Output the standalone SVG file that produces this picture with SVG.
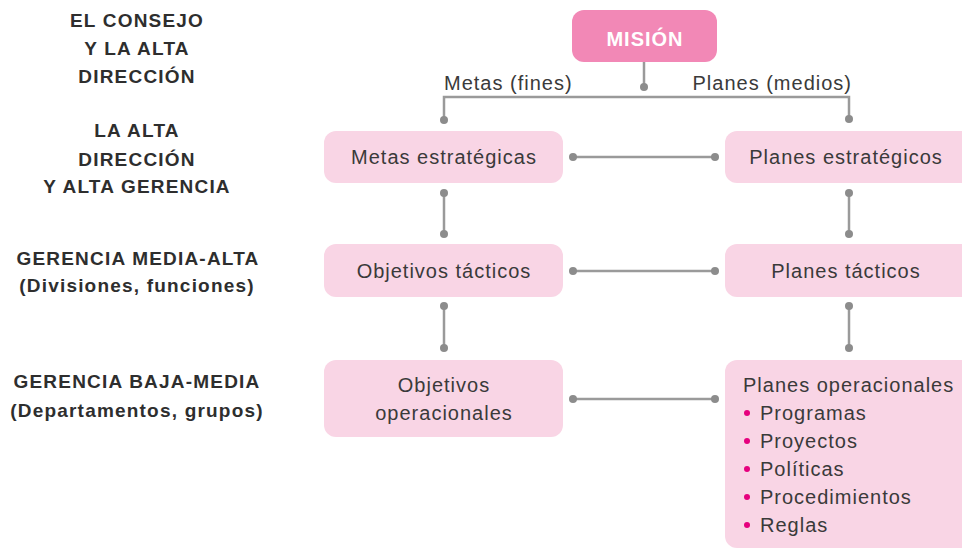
<svg xmlns="http://www.w3.org/2000/svg" width="962" height="549" viewBox="0 0 962 549">
<style>
.lvl{font-family:"Liberation Sans",Arial,sans-serif;font-size:19px;font-weight:bold;fill:#2e2e2e;text-anchor:middle;letter-spacing:1.2px}
.box{fill:#f9d5e5}
.t{font-family:"Liberation Sans",Arial,sans-serif;font-size:20px;fill:#3a3a3a;letter-spacing:1px}
.c{text-anchor:middle}
.ln{stroke:#9a9a9a;stroke-width:2.5;fill:none}
.dot{fill:#8c8c8c}
.bul{fill:#e6007e}
</style>
<rect width="962" height="549" fill="#ffffff"/>
<g id="levels">
<text class="lvl" x="137" y="27">EL CONSEJO</text>
<text class="lvl" x="137" y="55">Y LA ALTA</text>
<text class="lvl" x="137" y="83">DIRECCIÓN</text>
<text class="lvl" x="137" y="137">LA ALTA</text>
<text class="lvl" x="137" y="166">DIRECCIÓN</text>
<text class="lvl" x="137" y="193">Y ALTA GERENCIA</text>
<text class="lvl" x="138" y="265">GERENCIA MEDIA-ALTA</text>
<text class="lvl" x="137" y="292">(Divisiones, funciones)</text>
<text class="lvl" x="137" y="388">GERENCIA BAJA-MEDIA</text>
<text class="lvl" x="137" y="417">(Departamentos, grupos)</text>
</g>
<g id="connectors">
<path class="ln" d="M644 62V87"/>
<circle class="dot" cx="644" cy="87" r="4"/>
<path class="ln" d="M444 120V97H849V119"/>
<circle class="dot" cx="444" cy="120" r="4"/>
<circle class="dot" cx="849" cy="119" r="4"/>
<text class="t" x="444" y="90">Metas (fines)</text>
<text class="t" x="852" y="90" text-anchor="end">Planes (medios)</text>
<path class="ln" d="M444 193V234M444 306V348M849 193V234M849 306V348"/>
<circle class="dot" cx="444" cy="193" r="4"/><circle class="dot" cx="444" cy="234" r="4"/>
<circle class="dot" cx="444" cy="306" r="4"/><circle class="dot" cx="444" cy="348" r="4"/>
<circle class="dot" cx="849" cy="193" r="4"/><circle class="dot" cx="849" cy="234" r="4"/>
<circle class="dot" cx="849" cy="306" r="4"/><circle class="dot" cx="849" cy="348" r="4"/>
<path class="ln" d="M573 157H715M573 271H715M573 399H715"/>
<circle class="dot" cx="573" cy="157" r="4"/><circle class="dot" cx="715" cy="157" r="4"/>
<circle class="dot" cx="573" cy="271" r="4"/><circle class="dot" cx="715" cy="271" r="4"/>
<circle class="dot" cx="573" cy="399" r="4"/><circle class="dot" cx="715" cy="399" r="4"/>
</g>
<g id="mision">
<rect x="572" y="10" width="145" height="52" rx="12" fill="#f288b6"/>
<text x="645" y="46" text-anchor="middle" font-family="Liberation Sans, Arial, sans-serif" font-size="20" font-weight="bold" letter-spacing="1" fill="#ffffff">MISIÓN</text>
</g>
<g id="metas-estrategicas">
<rect class="box" x="324" y="131" width="239" height="52" rx="12"/>
<text class="t c" x="444" y="164">Metas estratégicas</text>
</g>
<g id="planes-estrategicos">
<rect class="box" x="725" y="131" width="260" height="52" rx="12"/>
<text class="t c" x="846" y="164">Planes estratégicos</text>
</g>
<g id="objetivos-tacticos">
<rect class="box" x="324" y="244" width="239" height="53" rx="12"/>
<text class="t c" x="444" y="278">Objetivos tácticos</text>
</g>
<g id="planes-tacticos">
<rect class="box" x="725" y="244" width="260" height="53" rx="12"/>
<text class="t c" x="846" y="278">Planes tácticos</text>
</g>
<g id="objetivos-operacionales">
<rect class="box" x="324" y="360" width="239" height="77" rx="12"/>
<text class="t c" x="444" y="392">Objetivos</text>
<text class="t c" x="444" y="420">operacionales</text>
</g>
<g id="planes-operacionales">
<rect class="box" x="725" y="360" width="260" height="188" rx="12"/>
<text class="t" x="743" y="392">Planes operacionales</text>
<circle class="bul" cx="747" cy="413" r="3"/><text class="t" x="760" y="420">Programas</text>
<circle class="bul" cx="747" cy="441" r="3"/><text class="t" x="760" y="448">Proyectos</text>
<circle class="bul" cx="747" cy="469" r="3"/><text class="t" x="760" y="476">Políticas</text>
<circle class="bul" cx="747" cy="497" r="3"/><text class="t" x="760" y="504">Procedimientos</text>
<circle class="bul" cx="747" cy="525" r="3"/><text class="t" x="760" y="532">Reglas</text>
</g>
</svg>
